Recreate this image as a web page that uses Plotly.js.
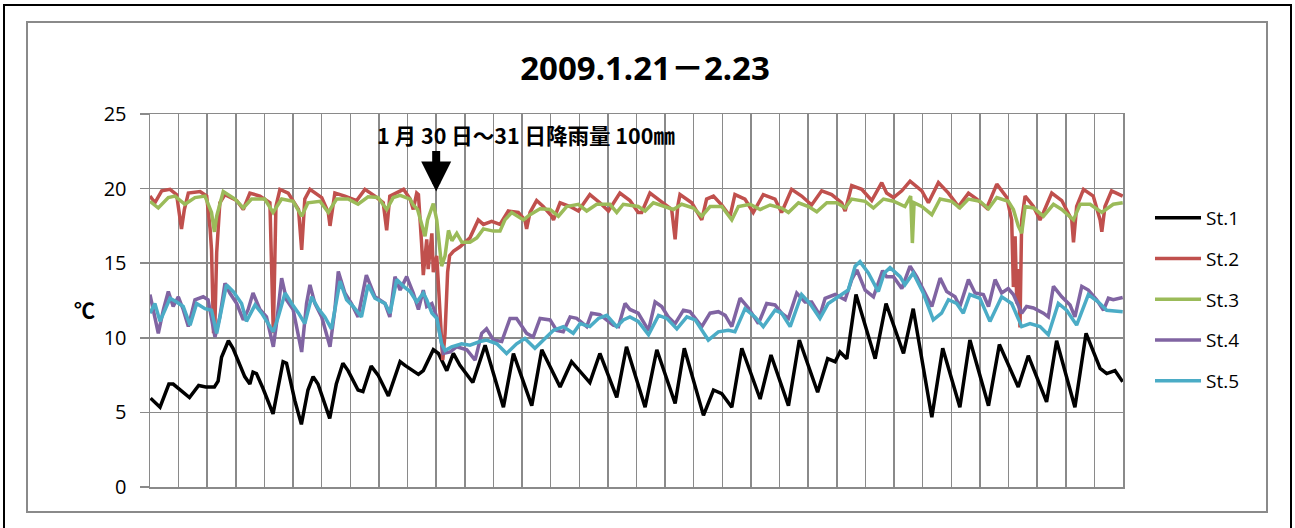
<!DOCTYPE html>
<html>
<head>
<meta charset="utf-8">
<script src="https://cdn.plot.ly/plotly-3.0.1.min.js"></script>
<style>html,body{margin:0;padding:0;background:#fff;}</style>
</head>
<body>
<div id="chart" style="width:1295px;height:528px;"></div>
<script>
// x values: days elapsed since 2009-01-21 00:00 (axis spans 34 days, to 2009-02-24 00:00)
const seriesNames = ["St.1", "St.2", "St.3", "St.4", "St.5"];
const yTicks = [0, 5, 10, 15, 20, 25];

const st1_t = [0.02,0.35,0.66,0.81,1.38,1.7,1.95,2.25,2.38,2.5,2.74,2.9,3.31,3.49,3.6,3.72,3.95,4.3,4.48,4.65,4.77,5.06,5.29,5.52,5.7,5.87,6.28,6.51,6.74,6.92,7.27,7.44,7.73,7.97,8.33,8.74,8.91,9.38,9.55,9.9,10.08,10.37,10.6,10.83,11.28,11.71,12.35,12.7,13.34,13.69,14.33,14.73,15.37,15.72,16.31,16.65,17.3,17.71,18.35,18.67,19.34,19.69,19.98,20.33,20.68,21.32,21.7,22.31,22.69,23.33,23.68,23.94,24.11,24.35,24.67,25.34,25.72,26.33,26.67,27.32,27.7,28.3,28.65,29.3,29.68,30.34,30.69,31.33,31.68,32.32,32.71,33.2,33.43,33.72,33.99];
const st1_v = [5.95,5.35,6.9,6.9,6.0,6.8,6.7,6.7,7.1,8.7,9.8,9.3,7.4,6.9,7.7,7.6,6.6,4.9,6.7,8.4,8.3,5.8,4.2,6.5,7.4,6.9,4.6,6.9,8.3,7.8,6.5,6.4,8.1,7.5,6.1,8.4,8.15,7.55,7.8,9.2,8.95,7.8,8.95,8.15,7.0,9.5,5.35,8.95,5.45,9.2,6.7,8.4,7.0,8.95,6.0,9.4,5.35,9.2,5.6,9.3,4.8,6.5,6.25,5.35,9.3,5.9,8.85,5.45,9.85,6.35,8.6,8.4,9.05,8.6,12.9,8.6,12.3,8.95,11.95,4.67,9.3,5.35,9.85,5.45,9.55,6.7,8.8,5.7,9.8,5.35,10.3,7.95,7.6,7.8,7.05];

const st2_t = [0.0,0.17,0.41,0.7,0.93,1.1,1.2,1.34,1.75,1.98,2.1,2.15,2.22,2.27,2.33,2.44,2.62,3.03,3.26,3.49,3.84,4.19,4.31,4.4,4.54,4.83,5.19,5.3,5.41,5.59,6.0,6.23,6.29,6.46,6.81,7.22,7.51,7.86,8.15,8.27,8.38,8.86,9.09,9.2,9.32,9.38,9.49,9.55,9.67,9.72,9.85,9.9,10.02,10.14,10.23,10.31,10.4,10.47,10.6,10.83,11.18,11.47,11.65,11.94,12.23,12.52,12.87,13.1,13.16,13.28,13.51,13.74,14.04,14.1,14.33,14.68,14.97,15.37,15.72,16.02,16.42,16.77,17.06,17.18,17.47,17.82,18.23,18.35,18.44,18.52,18.93,19.28,19.45,19.69,19.98,20.27,20.44,20.79,21.08,21.43,21.84,22.07,22.42,22.77,23.12,23.47,23.82,24.17,24.29,24.52,24.87,25.22,25.57,25.74,25.98,26.27,26.56,26.97,27.2,27.55,27.9,28.25,28.6,28.89,29.24,29.59,29.94,30.11,30.17,30.23,30.29,30.34,30.4,30.46,30.58,30.87,31.1,31.22,31.51,31.86,32.21,32.27,32.38,32.62,32.96,33.2,33.26,33.37,33.6,33.99];
const st2_v = [19.5,19.05,19.85,19.95,19.6,17.3,18.6,19.7,19.8,19.5,17.3,15.9,10.3,11.0,15.7,19.05,19.6,19.2,18.6,19.7,19.5,19.05,10.3,18.8,19.95,19.7,18.6,15.9,19.3,19.95,19.4,18.4,17.5,19.7,19.5,19.2,19.95,19.5,19.05,17.2,19.5,19.95,19.3,18.6,19.7,19.6,16.35,14.2,16.6,14.6,17.0,14.4,15.5,11.6,8.5,10.3,14.4,15.5,15.8,16.1,16.7,17.9,17.6,17.8,17.6,18.5,18.4,17.9,17.3,18.4,19.2,18.8,18.15,17.9,19.05,18.8,18.5,19.6,19.05,18.5,19.7,19.2,18.4,18.4,19.7,19.2,18.6,16.6,18.8,19.6,19.05,17.9,19.3,19.5,18.9,18.15,19.6,19.3,18.4,19.6,19.3,18.4,19.95,19.5,18.9,19.85,19.6,19.05,18.5,20.2,19.95,19.2,20.4,19.7,19.4,19.85,20.5,19.85,19.05,20.4,19.7,18.8,19.7,19.3,18.7,20.3,19.4,17.9,13.4,16.8,12.3,14.6,10.7,17.9,19.5,18.8,17.9,18.4,19.7,19.2,17.9,16.4,18.8,19.95,19.5,17.9,17.1,18.8,19.85,19.5];

const st3_t = [0.0,0.29,0.64,0.87,1.22,1.57,1.92,2.15,2.25,2.33,2.56,2.97,3.26,3.55,4.01,4.3,4.6,5.0,5.3,5.52,5.94,6.23,6.52,6.92,7.27,7.62,7.97,8.27,8.5,8.74,9.09,9.2,9.35,9.49,9.61,9.7,9.9,10.02,10.19,10.31,10.43,10.55,10.72,10.9,11.18,11.42,11.65,12.0,12.23,12.4,12.64,13.05,13.28,13.63,13.98,14.27,14.56,14.97,15.26,15.61,16.07,16.31,16.54,17.06,17.3,17.59,18.0,18.29,18.58,18.99,19.28,19.57,19.98,20.33,20.56,20.97,21.32,21.67,22.07,22.31,22.66,23.01,23.3,23.65,24.0,24.29,24.52,24.99,25.28,25.63,25.98,26.38,26.58,26.64,26.7,26.97,27.32,27.61,28.01,28.3,28.6,29.0,29.3,29.59,29.99,30.17,30.34,30.46,30.58,30.87,31.22,31.57,31.86,32.27,32.5,32.85,33.26,33.66,33.99];
const st3_v = [19.15,18.7,19.4,19.5,18.95,19.4,19.5,18.4,17.1,18.15,19.8,19.3,18.7,19.3,19.3,18.4,19.3,19.15,18.15,19.05,19.15,18.4,19.3,19.3,18.95,19.45,19.4,18.6,19.4,19.55,19.3,18.9,18.6,17.7,16.8,17.9,19.0,17.9,14.8,15.5,17.2,16.5,17.0,16.4,16.4,16.7,17.3,17.15,17.15,17.9,18.4,17.9,18.25,18.65,18.6,18.15,18.8,18.95,18.5,18.95,18.95,18.4,18.95,18.8,18.5,19.05,18.8,18.6,18.95,18.7,18.15,18.8,18.8,17.9,18.8,18.95,18.6,18.9,18.7,18.4,19.05,18.8,18.45,19.05,19.05,18.7,19.3,19.15,18.7,19.3,19.15,18.8,19.5,16.35,19.05,18.8,18.25,19.3,19.15,18.7,19.3,19.15,18.65,19.4,19.15,18.6,17.5,17.0,18.8,18.7,18.15,18.95,18.6,17.9,18.95,18.95,18.4,18.95,19.05];

const st4_t = [0.0,0.12,0.29,0.47,0.64,0.81,0.99,1.16,1.34,1.57,1.86,2.03,2.15,2.27,2.44,2.62,2.79,3.03,3.26,3.43,3.6,3.84,4.07,4.31,4.42,4.6,4.77,5.0,5.3,5.47,5.59,5.76,6.0,6.29,6.46,6.58,6.81,7.04,7.27,7.56,7.86,8.21,8.38,8.56,8.74,8.97,9.2,9.38,9.55,9.67,9.85,10.02,10.25,10.49,10.72,11.07,11.36,11.59,11.76,12.0,12.29,12.58,12.81,13.16,13.39,13.63,13.98,14.21,14.44,14.68,14.91,15.26,15.43,15.72,16.19,16.37,16.6,16.77,17.06,17.42,17.65,17.88,18.11,18.35,18.64,18.87,19.28,19.57,19.86,20.1,20.33,20.62,20.91,21.26,21.55,21.84,22.07,22.31,22.6,22.89,23.12,23.41,23.59,23.94,24.29,24.52,24.7,24.99,25.28,25.6,25.74,25.98,26.27,26.56,26.79,27.08,27.32,27.61,27.84,28.13,28.3,28.6,28.83,29.12,29.3,29.53,29.76,29.99,30.17,30.46,30.63,30.87,31.22,31.39,31.57,31.86,32.15,32.32,32.56,32.79,33.08,33.32,33.49,33.66,33.99];
const st4_v = [12.9,11.9,10.3,11.9,13.1,12.1,12.75,11.9,10.75,12.55,12.75,12.55,11.4,10.05,11.4,13.65,13.0,12.3,11.2,11.9,13.0,11.9,11.4,9.4,10.95,14.0,12.55,11.9,9.05,12.3,13.55,12.3,11.4,9.4,11.9,14.45,13.0,12.3,11.4,14.2,12.75,12.3,11.4,14.1,13.2,14.1,13.0,11.9,13.2,12.1,12.3,11.4,8.95,9.05,9.4,9.2,8.5,10.3,10.6,9.85,9.75,11.3,11.3,10.3,10.05,11.3,11.2,10.5,10.4,11.4,11.3,10.75,11.65,11.55,10.85,10.75,12.3,11.9,11.65,10.5,12.4,12.1,11.4,10.95,11.85,11.75,10.75,11.65,11.75,11.5,10.75,12.65,12.0,10.95,12.3,12.2,11.65,11.3,13.0,12.4,12.4,11.5,12.65,12.9,12.55,13.9,14.55,13.2,12.75,14.5,14.1,14.1,13.3,14.8,14.1,13.0,12.1,14.0,13.1,12.75,12.1,13.9,13.0,12.9,12.1,13.9,13.0,13.3,12.9,11.65,12.1,12.0,11.65,11.4,13.45,12.75,12.2,11.4,13.45,13.2,12.55,11.85,12.65,12.55,12.7];

const st5_t = [0.0,0.17,0.35,0.52,0.7,0.93,1.16,1.4,1.63,1.92,2.15,2.33,2.5,2.67,2.91,3.2,3.37,3.67,3.9,4.13,4.31,4.48,4.72,4.95,5.19,5.41,5.65,5.88,6.11,6.34,6.64,6.87,7.1,7.39,7.62,7.86,8.21,8.39,8.62,8.86,9.09,9.32,9.55,9.67,9.85,10.02,10.19,10.31,10.54,10.89,11.18,11.53,11.76,12.12,12.46,12.81,13.1,13.45,13.74,14.1,14.44,14.79,15.03,15.37,15.67,15.96,16.31,16.54,16.77,17.06,17.42,17.77,18.06,18.41,18.76,19.05,19.51,19.86,20.21,20.44,20.79,21.14,21.43,21.84,22.07,22.37,22.77,23.06,23.41,23.7,24.05,24.4,24.64,24.81,25.1,25.45,25.66,25.86,26.21,26.38,26.67,27.02,27.37,27.66,27.9,28.19,28.42,28.65,29.0,29.35,29.76,30.11,30.46,30.75,31.1,31.39,31.74,32.03,32.38,32.79,33.14,33.43,33.99];
const st5_v = [11.65,12.3,11.1,11.85,12.65,12.4,12.1,10.85,12.3,11.95,11.85,10.3,11.85,13.55,13.1,12.3,11.1,12.2,11.65,10.95,10.4,11.4,13.0,12.3,11.65,10.95,12.75,11.95,11.4,10.6,13.8,12.55,12.1,11.4,13.55,12.65,12.3,11.65,13.9,13.45,13.1,12.4,13.0,12.55,11.65,11.3,9.6,9.15,9.4,9.6,9.5,9.75,9.85,9.6,8.95,9.6,9.95,9.3,9.85,10.5,10.75,10.3,10.95,10.75,11.3,11.5,10.75,11.2,11.4,11.1,10.2,11.5,11.3,10.6,11.4,11.2,9.85,10.4,10.5,10.4,11.95,11.4,10.75,11.85,11.65,10.75,12.9,12.3,11.3,12.3,12.75,13.2,14.8,15.1,14.35,13.1,14.35,14.7,14.1,13.55,14.35,13.0,11.2,11.65,12.55,12.3,11.65,12.9,12.65,11.1,12.75,12.3,10.75,10.95,10.75,10.2,12.3,11.85,10.85,12.9,12.4,11.85,11.75];

const seriesT = [st1_t, st2_t, st3_t, st4_t, st5_t];
const seriesV = [st1_v, st2_v, st3_v, st4_v, st5_v];
const colors = ["#000000", "#C0504D", "#9BBB59", "#8064A2", "#4BACC6"];

const titleText = "2009.1.21－2.23";
const noteText = "1 月 30 日～31 日降雨量 100㎜";
const arrowDay = 10;      // 1/31 00:00
const yUnit = "℃";

const traces = seriesNames.map((n, i) => ({
  type: "scatter", mode: "lines", name: n,
  x: seriesT[i], y: seriesV[i],
  line: {color: colors[i], width: 3.5},
  legendgroup: "g" + i, hoverinfo: "x+y+name"
}));

// frame helpers (pixel -> paper), plot area: x 150..1123, y 114..487
const L = 150, R = 1123, T = 114, B = 487;
const px = v => (v - L) / (R - L);
const py = v => (B - v) / (B - T);

const gridCol = "#8a8a8a";
const layout = {
  width: 1295, height: 528,
  margin: {l: L, r: 1295 - R, t: T, b: 528 - B, pad: 0},
  paper_bgcolor: "#ffffff", plot_bgcolor: "#ffffff",
  showlegend: true,
  title: {text: titleText, x: 645 / 1295, xref: "container", xanchor: "center",
          y: 1 - 68 / 528, yref: "container", yanchor: "middle",
          font: {family: "Noto Sans, Noto Sans CJK JP", size: 33, color: "#000", weight: "bold"}},
  xaxis: {range: [0, 34], dtick: 1, tick0: 0, showticklabels: false, ticks: "",
          showgrid: true, gridcolor: gridCol, gridwidth: 1.5, zeroline: false,
          showline: true, linecolor: gridCol, linewidth: 1.5, mirror: true, fixedrange: true},
  yaxis: {range: [0, 25], tickvals: yTicks, ticktext: yTicks.map(String),
          ticks: "outside", ticklen: 9, tickcolor: gridCol, tickwidth: 1.5,
          ticklabelstandoff: 9,
          tickfont: {family: "Open Sans, Noto Sans", size: 20, color: "#000"},
          showgrid: true, gridcolor: gridCol, gridwidth: 1.5, zeroline: false,
          showline: true, linecolor: gridCol, linewidth: 1.5, mirror: true, fixedrange: true},
  legend: {x: px(1150), xanchor: "left", y: py(199), yanchor: "top",
           font: {family: "Open Sans, Noto Sans", size: 19, color: "#000"},
           tracegroupgap: 13, itemwidth: 46, bgcolor: "rgba(0,0,0,0)"},
  annotations: [
    {x: 13.14, y: 23.6, xref: "x", yref: "y", text: noteText, showarrow: false,
     font: {family: "Noto Sans CJK JP", size: 21.5, color: "#000", weight: "bold"}},
    {x: arrowDay, y: 19.8, xref: "x", yref: "y", ax: 0, ay: -42, text: "",
     showarrow: true, arrowhead: 2, arrowsize: 0.75, arrowwidth: 8, arrowcolor: "#000"},
    {x: px(72), y: py(309), xref: "paper", yref: "paper", text: yUnit, showarrow: false,
     font: {family: "Noto Sans CJK JP", size: 21, color: "#000", weight: "bold"}}
  ],
  shapes: [
    {type: "rect", xref: "paper", yref: "paper", x0: px(27), x1: px(1267), y0: py(512), y1: py(22),
     line: {color: "#8a8a8a", width: 2}, layer: "below"},
    {type: "rect", xref: "paper", yref: "paper", x0: px(4), x1: px(1291), y0: py(545), y1: py(5),
     line: {color: "#000", width: 2}, layer: "below"}
  ]
};

Plotly.newPlot("chart", traces, layout, {displayModeBar: false, staticPlot: true});
</script>
</body>
</html>
